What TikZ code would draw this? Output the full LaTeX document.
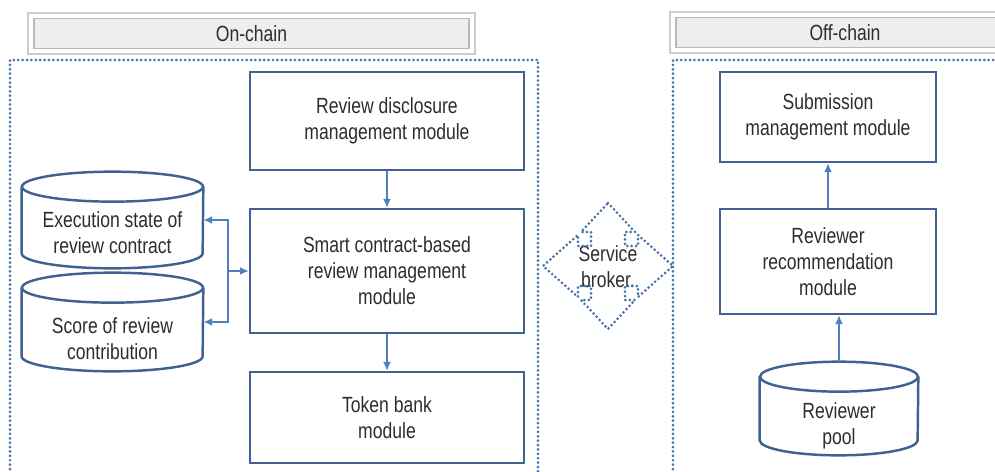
\documentclass[tikz,border=0pt]{standalone}
\usepackage{fontspec}
\setmainfont{Liberation Sans}[FakeStretch=0.8]
\usetikzlibrary{calc,arrows.meta}
\usetikzlibrary{positioning}
\definecolor{boxblue}{RGB}{64,98,145}
\definecolor{linkblue}{RGB}{79,129,189}
\definecolor{dotblue}{RGB}{68,114,170}
\definecolor{inkgray}{RGB}{45,45,45}
\newcommand{\drum}[3]{\draw[drumline] ($(#1.north west)+(0,-#3)$) -- ($(#1.south west)+(0,#3)$)
					arc[start angle=180, end angle=360, x radius=#2, y radius=#3] -- ($(#1.north east)+(0,-#3)$);
					\draw[drumline] ($(#1.north)+(0,-#3)$) ellipse[x radius=#2, y radius=#3];}
\newcommand{\brokershape}{\draw[frame] (0,63) -- (27,34) -- (17,34) -- (17,20) -- (30,20) -- (30,31) -- (65,0)
					-- (30,-31) -- (30,-20) -- (17,-20) -- (17,-34) -- (27,-34) -- (0,-63)
					-- (-27,-34) -- (-17,-34) -- (-17,-20) -- (-30,-20) -- (-30,-31) -- (-65,0)
					-- (-30,31) -- (-30,20) -- (-17,20) -- (-17,34) -- (-27,34) -- cycle;}

\begin{document}
\begin{tikzpicture}[x=0.02cm, y=0.02cm,
		every node/.style={font=\fontsize{12.5}{14.8}\selectfont, text=inkgray, align=center},
		modbox/.style={draw=boxblue, line width=1.4pt, fill=white},
		drumline/.style={draw=boxblue, line width=1.4pt, fill=white},
		link/.style={draw=linkblue, line width=0.9pt, -{Latex[length=5pt,width=4.5pt]}},
		frame/.style={draw=dotblue, line width=1.7pt, line cap=round, dash pattern=on 0pt off 2.5pt},
		hdbox/.style={draw=gray!40, line width=1.2pt, fill=white, minimum width=#1, minimum height=0.82cm,
			path picture={\draw[gray!55, line width=0.8pt, fill=gray!13]
				([shift={(3.5pt,-3pt)}]path picture bounding box.north west) rectangle
				([shift={(-3.5pt,3pt)}]path picture bounding box.south east);}}]

	\clip (0,0) rectangle (995,471);

	% headers and frames
	\node[hdbox=8.94cm] (onhead) at (251.5,437.5) {On-chain};
	\node[hdbox=7cm] (offhead) at (845,438.5) {Off-chain};
	\draw[frame] (10,-20) rectangle (538,411);
	\draw[frame] (673,-20) rectangle (1040,411);

	% on-chain modules
	\node[modbox, minimum width=5.48cm, minimum height=1.96cm] (disc) at (387,350) {Review disclosure\\management module};
	\node[modbox, minimum width=5.48cm, minimum height=2.48cm] (smart) at (387,200) {Smart contract-based\\review management\\module};
	\node[modbox, minimum width=5.48cm, minimum height=1.82cm] (token) at (387,53.5) {Token bank\\module};

	% storage
	\node[minimum width=3.62cm, minimum height=1.92cm, inner sep=0pt] (exec) at (112.5,251) {};
	\drum{exec}{1.81cm}{0.3cm}
	\node (exec-t) at (112.5,238.5) {Execution state of\\review contract};
	\node[minimum width=3.62cm, minimum height=1.96cm, inner sep=0pt] (score) at (112.5,149) {};
	\drum{score}{1.81cm}{0.3cm}
	\node (score-t) at (112.5,132) {Score of review\\contribution};

	% off-chain modules
	\node[modbox, minimum width=4.32cm, minimum height=1.8cm] (subm) at (828,354) {Submission\\management module};
	\node[modbox, minimum width=4.32cm, minimum height=2.1cm] (recom) at (828,209.5) {Reviewer\\recommendation\\module};
	\node[minimum width=3.16cm, minimum height=1.86cm, inner sep=0pt] (pool) at (839,62.5) {};
	\drum{pool}{1.58cm}{0.3cm}
	\node (pool-t) at (839,45.5) {Reviewer\\pool};

	% broker
	\node (broker) at (608,204) {Service\\broker.};
	\begin{scope}[shift={(broker.center)}, yshift=0.02cm]
		\brokershape
	\end{scope}

	% connectors
	\coordinate (jn) at (228,200);
	\draw[link] (disc) -- (smart);
	\draw[link] (smart) -- (token);
	\draw[link] (jn) -- (smart.west);
	\draw[link] (jn) |- (exec.east);
	\draw[link] (jn) |- (score.east);
	\draw[link] (recom) -- (subm);
	\draw[link] (pool.north) -- (pool.north |- recom.south);

\end{tikzpicture}
\end{document}
